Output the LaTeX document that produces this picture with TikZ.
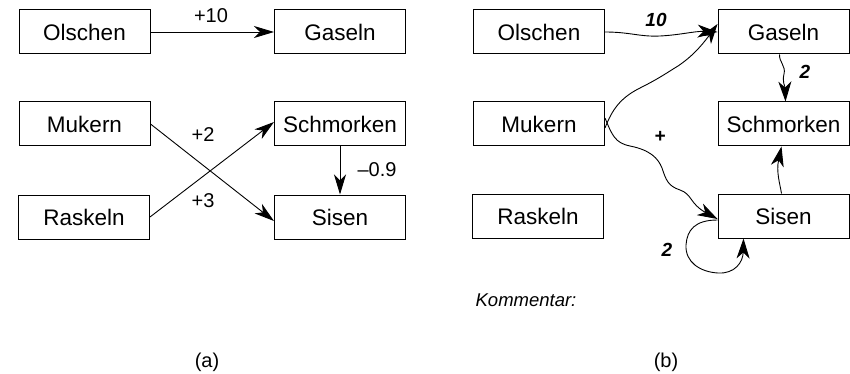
\documentclass[tikz,border=0pt]{standalone}
\usepackage{fontspec}
\setmainfont{Liberation Sans}
\usetikzlibrary{arrows.meta}
\begin{document}
\begin{tikzpicture}[x=1pt,y=-1pt,
  box/.style={draw,line width=1pt,minimum width=131pt,minimum height=44pt,inner sep=0pt,
    font=\fontsize{22.5}{25}\selectfont},
  lab/.style={font=\fontsize{20}{23}\selectfont,inner sep=0pt},
  hand/.style={font=\fontsize{19}{22}\selectfont\bfseries\itshape,inner sep=0pt},
  link/.style={line width=0.9pt,-{Stealth[length=20pt,width=12pt,inset=6pt]}},
  wavy/.style={line width=0.9pt,-{Stealth[length=20pt,width=13pt,inset=6pt]}}]
\useasboundingbox (0,0) rectangle (850,374);

% ---- (a) signed influence diagram
\node[box] (olA) at (84.5,32)  {Olschen};
\node[box] (gaA) at (340,32)   {Gaseln};
\node[box] (muA) at (84.5,124) {Mukern};
\node[box] (scA) at (340,124)  {Schmorken};
\node[box] (raA) at (84,217)   {Raskeln};
\node[box] (siA) at (340,217)  {Sisen};

\draw[link] (olA.east) -- (gaA.west);
\draw[link] (muA.east) -- ([yshift=-4pt]siA.west);
\draw[link] (raA.east) -- ([yshift=2pt]scA.west);
\draw[link] (scA.south) -- (siA.north);

\node[lab] (l10) at (211,16) {+10};
\node[lab] (l2)  at (203,135) {+2};
\node[lab] (l3)  at (203,201) {+3};
\node[lab] (l09) at (377,170) {–0.9};

% ---- (b) hand-drawn version
\node[box] (olB) at (539,32)    {Olschen};
\node[box] (gaB) at (783.5,32)  {Gaseln};
\node[box] (muB) at (539,124)   {Mukern};
\node[box] (scB) at (783.5,124) {Schmorken};
\node[box] (raB) at (538,216)   {Raskeln};
\node[box] (siB) at (783.5,216) {Sisen};

\draw[wavy] (olB.east) .. controls (630,32) and (640,37) .. (660,36)
  .. controls (680,35) and (695,31) .. (gaB.west);
\draw[wavy] ([yshift=-4pt]muB.east) .. controls (612,110) and (620,98) .. (640,88)
  .. controls (660,78) and (668,72) .. (678,66)
  .. controls (690,58) and (700,48) .. ([yshift=8pt]gaB.west);
\draw[wavy] ([yshift=6pt]muB.east) .. controls (612,135) and (615,143) .. (630,146)
  .. controls (650,150) and (658,158) .. (662,168)
  .. controls (666,180) and (668,186) .. (680,190)
  .. controls (692,194) and (690,204) .. ([yshift=-3pt]siB.west);
\draw[wavy] ([xshift=-4pt]gaB.south) .. controls (779,62) and (786,66) .. (784,74)
  .. controls (782,82) and (785,86) .. ([xshift=2pt]scB.north);
\draw[wavy] ([xshift=-2pt]siB.north) .. controls (780,184) and (776,172) .. ([xshift=-2pt]scB.south);
\draw[wavy] ([yshift=-4pt]siB.west) .. controls (695,220) and (687,230) .. (686,245)
  .. controls (685,262) and (700,272) .. (718,273)
  .. controls (735,274) and (743,262) .. ([xshift=-40pt]siB.south);

\node[hand] (h10) at (656,20)  {10};
\node[hand] (hp)  at (660,137) {+};
\node[hand] (h2a) at (805,72)  {2};
\node[hand] (h2b) at (667,250) {2};

\node[font=\fontsize{18.5}{22}\selectfont\itshape,inner sep=0pt] (kom) at (526,300) {Kommentar:};

% ---- panel captions
\node[lab] (capa) at (207,362) {(a)};
\node[lab] (capb) at (666,362) {(b)};
\end{tikzpicture}
\end{document}
